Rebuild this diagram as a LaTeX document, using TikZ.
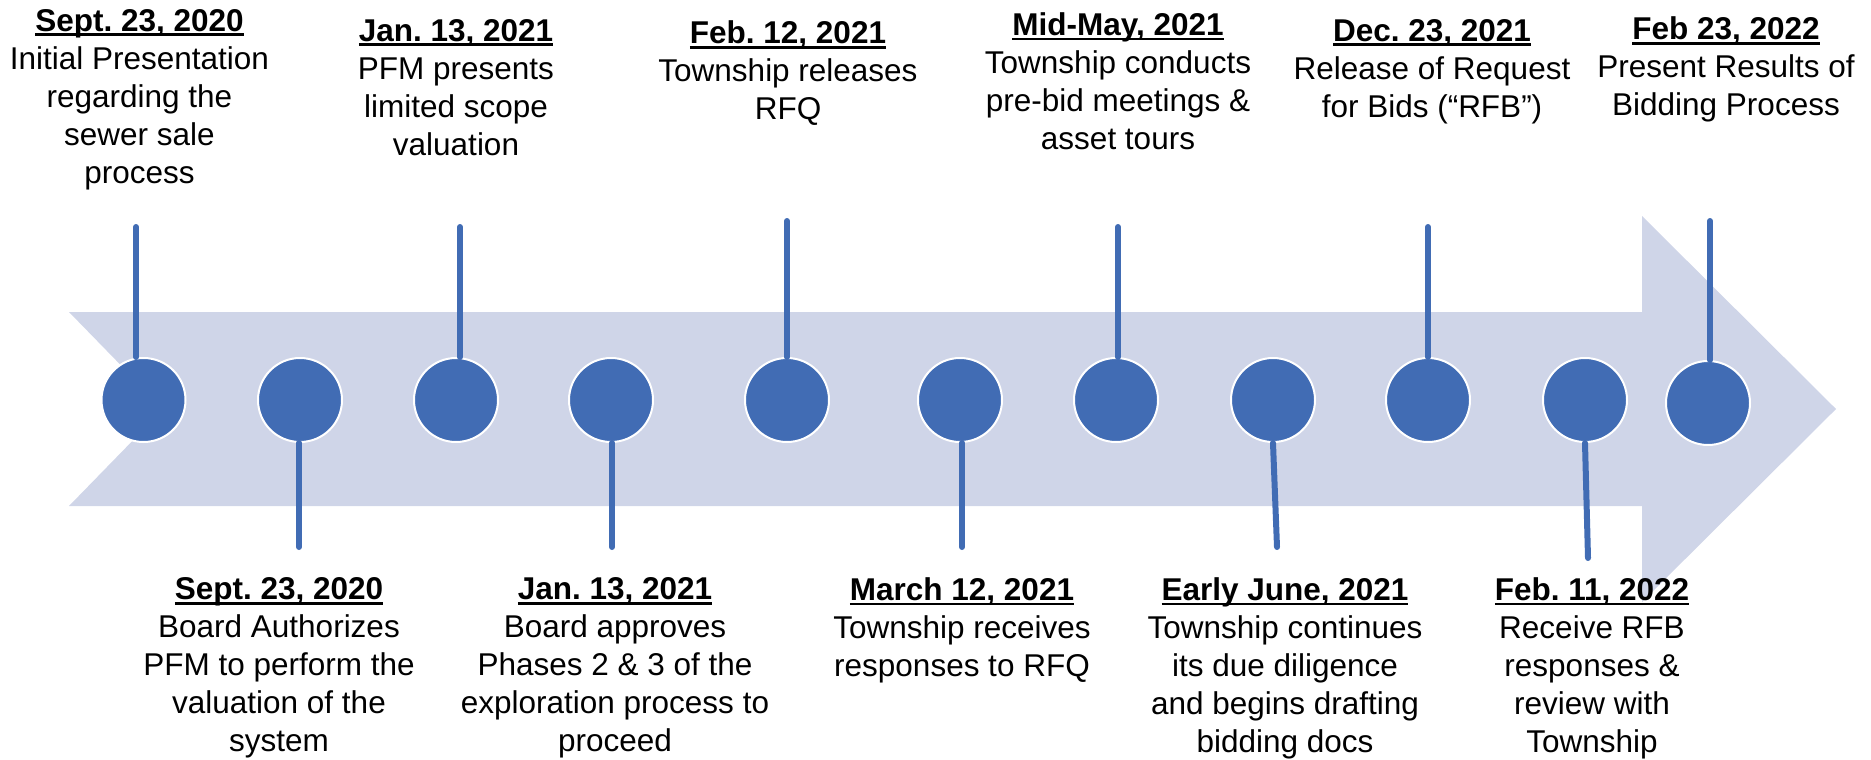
\documentclass[tikz,border=0pt]{standalone}
\usepackage{fontspec}
\setmainfont{Liberation Sans}
\frenchspacing
\definecolor{dotblue}{RGB}{65,108,180}
\definecolor{arrowfill}{RGB}{207,213,232}
\newsavebox\datebox
\newcommand\dul[1]{\sbox\datebox{\bfseries #1}\rlap{\rule[-5pt]{\wd\datebox}{2.8pt}}\usebox\datebox}
\tikzset{
  dot/.style={circle, fill=dotblue, draw=white, line width=2pt, minimum size=84pt, inner sep=0pt},
  stem/.style={draw=dotblue, line width=6pt, line cap=round},
  lbl/.style={align=center, inner sep=0pt, anchor=north, font=\fontsize{31.5}{38}\selectfont\frenchspacing},
  bigarrow/.style={fill=arrowfill, draw=none}
}
\begin{document}
\begin{tikzpicture}[x=1pt, y=-1pt]
\useasboundingbox (0,0) rectangle (1871,760);
% arrow
\fill[bigarrow] (69,312) -- (1642,312) -- (1642,216) -- (1836,409) -- (1642,602) -- (1642,506) -- (69,506) -- (163.5,409) -- cycle;
% dots
\node[dot] (c1) at (143.5,400) {};
\node[dot] (c2) at (300,400) {};
\node[dot] (c3) at (456,400) {};
\node[dot] (c4) at (611,400) {};
\node[dot] (c5) at (787,400) {};
\node[dot] (c6) at (960,400) {};
\node[dot] (c7) at (1116,400) {};
\node[dot] (c8) at (1273,400) {};
\node[dot] (c9) at (1428,400) {};
\node[dot] (c10) at (1585,400) {};
\node[dot] (c11) at (1708,403) {};
% stem ends
\coordinate (t1) at (136,227);
\coordinate (b2) at (299,547);
\coordinate (t3) at (460,227);
\coordinate (b4) at (612,547);
\coordinate (t5) at (787,221);
\coordinate (b6) at (962,547);
\coordinate (t7) at (1118,227);
\coordinate (b8) at (1277,547);
\coordinate (t9) at (1428,227);
\coordinate (b10) at (1588,558);
\coordinate (t11) at (1710,221);
\draw[stem] (t1) -- (t1 |- c1.north);
\draw[stem] (b2) -- (b2 |- c2.south);
\draw[stem] (t3) -- (t3 |- c3.north);
\draw[stem] (b4) -- (b4 |- c4.south);
\draw[stem] (t5) -- (t5 |- c5.north);
\draw[stem] (b6) -- (b6 |- c6.south);
\draw[stem] (t7) -- (t7 |- c7.north);
\draw[stem] (b8) -- (c8.south);
\draw[stem] (t9) -- (t9 |- c9.north);
\draw[stem] (b10) -- (c10.south);
\draw[stem] (t11) -- (t11 |- c11.north);
% top labels
\node[lbl] (l1) at (139.5,9) {\dul{Sept. 23, 2020}\\Initial Presentation\\regarding the\\sewer sale\\process};
\node[lbl] (l3) at (456,19) {\dul{Jan. 13, 2021}\\PFM presents\\limited scope\\valuation};
\node[lbl] (l5) at (788,20.6) {\dul{Feb. 12, 2021}\\Township releases\\RFQ};
\node[lbl] (l7) at (1118,12.3) {\dul{Mid-May, 2021}\\Township conducts\\pre-bid meetings \&\\asset tours};
\node[lbl] (l9) at (1432,19) {\dul{Dec. 23, 2021}\\Release of Request\\for Bids (“RFB”)};
\node[lbl] (l11) at (1726,16.6) {\dul{Feb 23, 2022}\\Present Results of\\Bidding Process};
% bottom labels
\node[lbl] (l2) at (279,577.3) {\dul{Sept. 23, 2020}\\Board Authorizes\\PFM to perform the\\valuation of the\\system};
\node[lbl] (l4) at (615,577.3) {\dul{Jan. 13, 2021}\\Board approves\\Phases 2 \& 3 of the\\exploration process to\\proceed};
\node[lbl] (l6) at (962,577.3) {\dul{March 12, 2021}\\Township receives\\responses to RFQ};
\node[lbl] (l8) at (1285,577.3) {\dul{Early June, 2021}\\Township continues\\its due diligence\\and begins drafting\\bidding docs};
\node[lbl] (l10) at (1592,577.3) {\dul{Feb. 11, 2022}\\Receive RFB\\responses \&\\review with\\Township};
\end{tikzpicture}
\end{document}
